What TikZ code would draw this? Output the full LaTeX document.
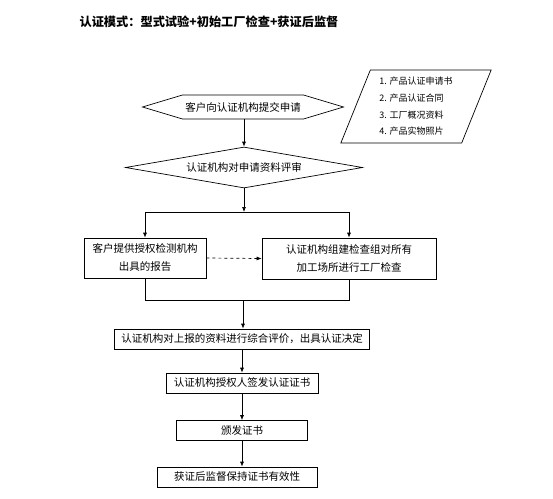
\documentclass[tikz,border=0pt]{standalone}
\usepackage{fontspec}
\setmainfont{Noto Sans CJK SC}
\usetikzlibrary{shapes.geometric,shapes.symbols,arrows.meta}
\begin{document}
\begin{tikzpicture}[x=1pt, y=-1pt, line width=0.7pt,
    txt/.style={font=\fontsize{10.5}{18}\selectfont},
    box/.style={draw, rectangle, txt, align=center, inner sep=0pt,
              minimum height=20pt},
    hexa/.style={draw, signal, signal to=west and east, txt,
              signal pointer angle=33.4, inner sep=0pt,
              minimum width=201pt, minimum height=24pt},
    diam/.style={draw, diamond, txt, inner sep=0pt, aspect=5.78,
              minimum width=237pt, minimum height=41pt},
    para/.style={draw, trapezium, trapezium left angle=68,
              trapezium right angle=112, align=left, inner sep=0pt,
              font=\fontsize{9}{16.7}\selectfont,
              minimum width=146pt, minimum height=73pt},
    arr/.style={-{Latex[length=5pt,width=4pt]}}]
    \useasboundingbox (0,0) rectangle (553,498);
    \node[font=\fontsize{12.2}{14}\selectfont\bfseries] (title) at (209,22)
        {认证模式：型式试验+初始工厂检查+获证后监督};
    \node[para] (docs) at (416,106.5)
        {1. 产品认证申请书\\2. 产品认证合同\\3. 工厂概况资料\\4. 产品实物照片};
    \node[hexa] (apply) at (243,107) {客户向认证机构提交申请};
    \node[diam] (review) at (244,167.5) {认证机构对申请资料评审};
    \node[box, minimum width=122pt, minimum height=40pt] (report) at (145,258)
        {客户提供授权检测机构\\出具的报告};
    \node[box, minimum width=174pt, minimum height=41pt] (inspect) at (349,258.5)
        {认证机构组建检查组对所有\\加工场所进行工厂检查};
    \node[box, minimum width=255pt] (decide) at (242,339)
        {认证机构对上报的资料进行综合评价，出具认证决定};
    \node[box, minimum width=152pt] (sign) at (242,383) {认证机构授权人签发认证证书};
    \node[box, minimum width=131pt] (issue) at (242,430.5) {颁发证书};
    \node[box, minimum width=160pt] (keep) at (237,477) {获证后监督保持证书有效性};
    \coordinate (split) at (244,212);
    \coordinate (merge) at (243,300);
    \draw[arr] (apply.south -| review.north) -- (review.north);
    \draw[arr] (review.south) -- (split);
    \draw[arr] (split) -| (report.north);
    \draw[arr] (split) -| (inspect.north);
    \draw[arr, dashed] (report.east) -- (inspect.west);
    \draw (report.south) -- (report.south |- merge) -- (inspect.south |- merge)
        -- (inspect.south);
    \draw[arr] (merge) -- (merge |- decide.north);
    \draw[arr] (decide.south) -- (decide.south |- sign.north);
    \draw[arr] (sign.south) -- (sign.south |- issue.north);
    \draw[arr] (issue.south) -- (issue.south |- keep.north);
\end{tikzpicture}
\end{document}
